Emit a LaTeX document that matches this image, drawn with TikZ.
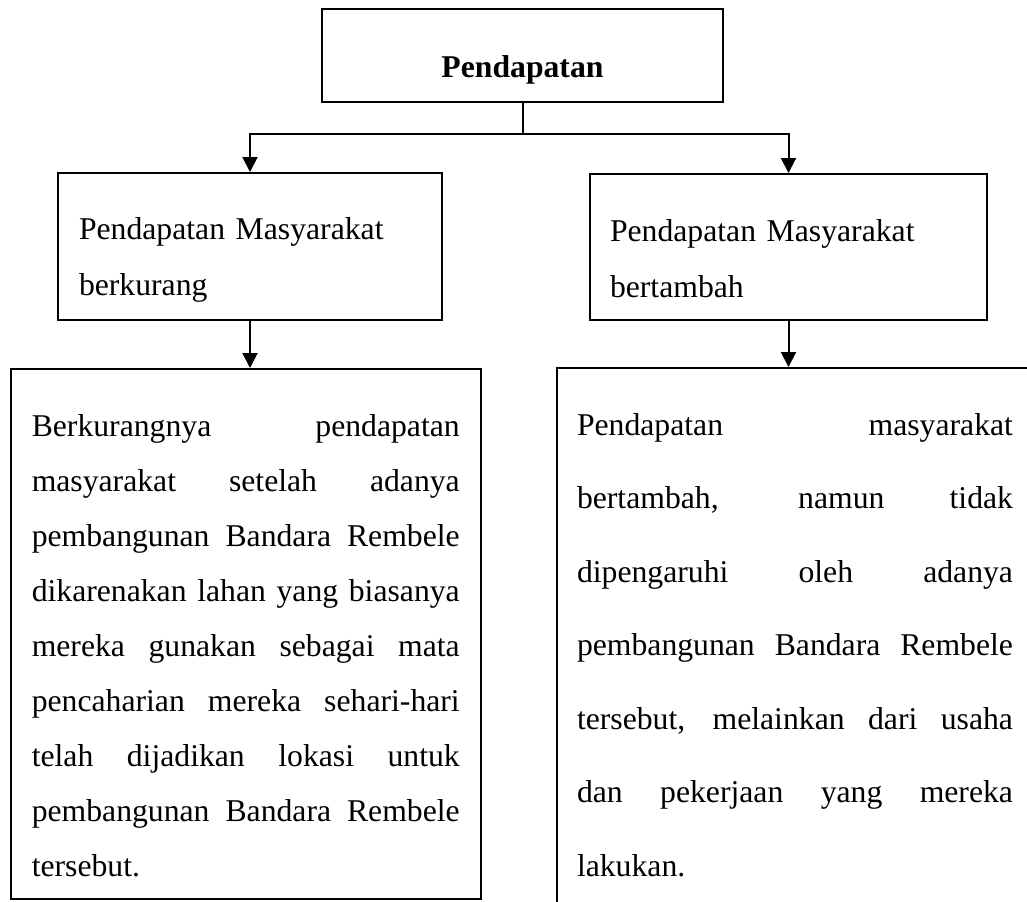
\documentclass[tikz,border=0pt]{standalone}
\usepackage{fontspec}
\setmainfont{Liberation Serif}
\usetikzlibrary{arrows.meta}
\newcommand{\jline}[1]{{\spaceskip=.25em plus 1fill\relax #1}}

\begin{document}
\begin{tikzpicture}[x=0.5pt, y=-0.5pt,
    box/.style = {draw, line width=1pt, align=left, anchor=north west,
                  inner ysep=0pt, font=\fontsize{15.85pt}{#1}\selectfont},
    box/.default = 28pt,  % baselineskip inside the box
    arr/.style = {line width=1pt, -{Triangle[width=7.5pt, length=7.5pt]}}
                    ]
        \useasboundingbox (0,0) rectangle (1027,901);
        \clip (0,0) rectangle (1027,901);
        % top
        \node[box, inner xsep=0pt, minimum width=200.5pt,
              text height=34pt, text depth=12.5pt] at (321,8) (judul) {\textbf{Pendapatan}};
        % second row
        \node[box, text width=171pt, inner xsep=10.5pt,
              text height=33pt, text depth=40.5pt] at (57,172) (kurang)
              {Pendapatan Masyarakat\\berkurang};
        \node[box, text width=178.5pt, inner xsep=10pt,
              text height=33.5pt, text depth=39.5pt] at (589,173) (tambah)
              {Pendapatan Masyarakat\\bertambah};
        % third row
        \node[box=27.5pt, text width=214pt, inner xsep=10.625pt,
              text height=33.5pt, text depth=231.5pt] at (9.5,368) (kurangket)
              {\jline{Berkurangnya pendapatan}\\
               \jline{masyarakat setelah adanya}\\
               \jline{pembangunan Bandara Rembele}\\
               \jline{dikarenakan lahan yang biasanya}\\
               \jline{mereka gunakan sebagai mata}\\
               \jline{pencaharian mereka sehari-hari}\\
               \jline{telah dijadikan lokasi untuk}\\
               \jline{pembangunan Bandara Rembele}\\
               tersebut.};
        \node[box=36.75pt, text width=218pt, inner xsep=10pt,
              text height=33.5pt, text depth=270pt] at (556,367) (tambahket)
              {\jline{Pendapatan masyarakat}\\
               \jline{bertambah, namun tidak}\\
               \jline{dipengaruhi oleh adanya}\\
               \jline{pembangunan Bandara Rembele}\\
               \jline{tersebut, melainkan dari usaha}\\
               \jline{dan pekerjaan yang mereka}\\
               lakukan.};
        \draw [line width=1pt] (judul.south) -- ++(0,31) coordinate (cab);
        \foreach \v in {kurang, tambah}
            \draw [arr] (cab) -| (\v.north);
        \foreach \u/\v in {kurang/kurangket, tambah/tambahket}
            \draw [arr] (\u.south) -- (\u.south |- \v.north);
    \end{tikzpicture}
\end{document}
